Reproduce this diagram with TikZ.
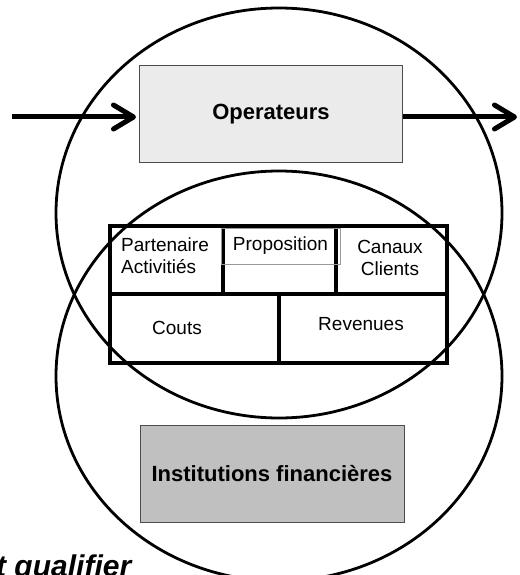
\documentclass[tikz,border=0pt]{standalone}
\usepackage{fontspec}
\setmainfont{Liberation Sans}
\usetikzlibrary{shapes.geometric, arrows.meta}

\definecolor{opgray}{HTML}{EBEBEB}
\definecolor{instgray}{HTML}{C0C0C0}

\begin{document}
\begin{tikzpicture}[x=1pt, y=-1pt, font=\fontsize{19}{22}\selectfont]
		\tikzstyle{ring} = [ellipse, draw=black, line width=2.8pt, minimum width=446pt, minimum height=410pt, inner sep=0pt]
		
		\tikzstyle{actor} = [rectangle, draw=black!70, line width=1pt, minimum width=263pt, minimum height=96pt, inner sep=0pt, font=\fontsize{22}{26}\selectfont\bfseries]
		
		\tikzstyle{grid} = [line width=4.5pt, line cap=rect]
		
		\tikzstyle{arrow} = [line width=5pt, -{Straight Barb[length=20pt, width=24pt, round]}]
		
		\useasboundingbox (0,0) rectangle (519,575);
		
		% The two circles
		\node (top) [ring] at (279,213) {};
		\node (bottom) [ring] at (279,376) {};
		
		% Outer boxes
		\node (op) [actor, fill=opgray] at (271,114) {Operateurs};
		\node (inst) [actor, fill=instgray, minimum width=264pt, minimum height=97pt] at (272,473.5) {Institutions financières};
		
		% Arrows
		\coordinate (in) at (12,117);
		\coordinate (out) at (517,117);
		\draw [arrow, shorten >=3pt] (in) -- (in -| op.west);
		\draw [arrow] (out -| op.east) -- (out);
		
		% Model grid
		\coordinate (gnw) at (110,226);
		\coordinate (gse) at (447,363);
		\draw [grid] (gnw) rectangle (gse);
		\draw [grid] (110,294) -- (447,294);
		\draw [grid] (223,226) -- (223,294);
		\draw [grid] (336,226) -- (336,294);
		\draw [grid] (279,294) -- (279,363);
		
		% Grid texts
		\node (part) [anchor=west, align=left, inner sep=0pt] at (121,256) {Partenaire\\Activitiés};
		\node (prop) [draw=black!40, line width=0.6pt, minimum width=119pt, minimum height=36pt, inner sep=0pt] at (280.5,246) {Proposition};
		\node (canal) [align=center, inner sep=0pt] at (390,258) {Canaux\\Clients};
		\node (couts) [inner sep=0pt] at (177,328) {Couts};
		\node (rev) [inner sep=0pt] at (361,324) {Revenues};
		
		% Cut text
		\node (qual) [anchor=base west, inner sep=0pt, font=\fontsize{30}{36}\selectfont\bfseries\itshape] at (-4,576) {t qualifier};
	\end{tikzpicture}
\end{document}
